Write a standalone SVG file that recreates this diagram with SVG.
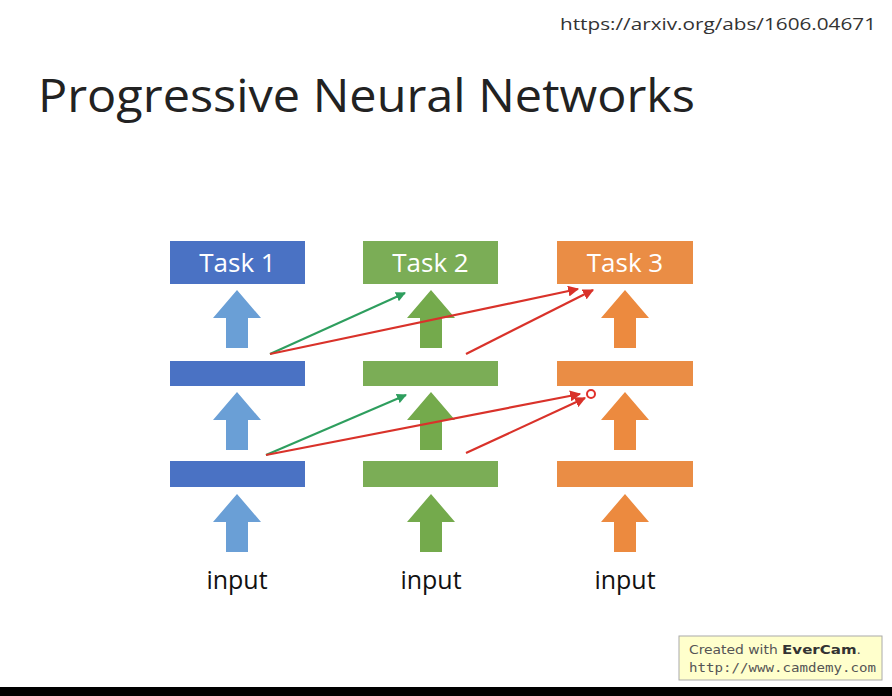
<svg xmlns="http://www.w3.org/2000/svg" width="892" height="696" viewBox="0 0 892 696">
<defs>
<style>
.t{font-family:"Open Sans","Liberation Sans",sans-serif;}
.lbl{font-size:26px;fill:#ffffff;text-anchor:middle;}
.inp{font-size:25px;fill:#111;text-anchor:middle;}
.b{fill:#4A72C4;} .g{fill:#7BAD56;} .o{fill:#EA8D45;}
.ab{fill:#6A9FD6;} .ag{fill:#74AA4C;} .ao{fill:#EC8A3F;}
.cg{stroke:#2E9E5E;stroke-width:2;fill:none;marker-end:url(#mg);}
.cr{stroke:#D9322A;stroke-width:2.2;fill:none;marker-end:url(#mr);}
</style>
<marker id="mg" viewBox="0 0 10 10" refX="9" refY="5" markerWidth="5" markerHeight="5" orient="auto"><path d="M0,0 L10,5 L0,10 z" fill="#2E9E5E"/></marker>
<marker id="mr" viewBox="0 0 10 10" refX="9" refY="5" markerWidth="5" markerHeight="5" orient="auto"><path d="M0,0 L10,5 L0,10 z" fill="#D9322A"/></marker>
<path id="up" d="M-24,28 L0,0 L24,28 L11,28 L11,58 L-11,58 L-11,28 z"/>
</defs>
<rect width="892" height="696" fill="#ffffff"/>
<text class="t" x="560" y="30" font-size="17" fill="#333" textLength="316" lengthAdjust="spacingAndGlyphs">https://arxiv.org/abs/1606.04671</text>
<text class="t" x="38" y="112" font-size="46" fill="#222" textLength="657" lengthAdjust="spacingAndGlyphs">Progressive Neural Networks</text>

<g id="col1">
<rect class="b" x="170" y="241" width="135" height="43"/>
<text class="t lbl" x="237.5" y="272">Task 1</text>
<rect class="b" x="170" y="361" width="135" height="25"/>
<rect class="b" x="170" y="461" width="135" height="26"/>
<use href="#up" class="ab" x="237" y="290"/>
<use href="#up" class="ab" x="237" y="392"/>
<use href="#up" class="ab" x="237" y="494"/>
<text class="t inp" x="237" y="589">input</text>
</g>
<g id="col2">
<rect class="g" x="363" y="241" width="135" height="43"/>
<text class="t lbl" x="430.5" y="272">Task 2</text>
<rect class="g" x="363" y="361" width="135" height="25"/>
<rect class="g" x="363" y="461" width="135" height="26"/>
<use href="#up" class="ag" x="431" y="290"/>
<use href="#up" class="ag" x="431" y="392"/>
<use href="#up" class="ag" x="431" y="494"/>
<text class="t inp" x="431" y="589">input</text>
</g>
<g id="col3">
<rect class="o" x="557" y="241" width="136" height="43"/>
<text class="t lbl" x="625" y="272">Task 3</text>
<rect class="o" x="557" y="361" width="136" height="25"/>
<rect class="o" x="557" y="461" width="136" height="26"/>
<use href="#up" class="ao" x="625" y="290"/>
<use href="#up" class="ao" x="625" y="392"/>
<use href="#up" class="ao" x="625" y="494"/>
<text class="t inp" x="625" y="589">input</text>
</g>

<g id="connectors">
<line class="cg" x1="270" y1="354" x2="405" y2="293"/>
<line class="cr" x1="270" y1="354" x2="578" y2="289"/>
<line class="cr" x1="466" y1="354" x2="593" y2="290"/>
<line class="cg" x1="266" y1="455" x2="406" y2="395"/>
<line class="cr" x1="266" y1="455" x2="580" y2="394"/>
<line class="cr" x1="466" y1="453" x2="585" y2="398"/>
</g>
<circle cx="591" cy="394" r="4" fill="none" stroke="#E0302A" stroke-width="2"/>

<g id="watermark">
<rect x="679" y="636" width="203" height="44" fill="#FFFFCC" stroke="#AAAAAA" stroke-width="1"/>
<text x="689" y="654" font-family="'DejaVu Sans',sans-serif" font-size="12" fill="#555" textLength="172" lengthAdjust="spacingAndGlyphs">Created with <tspan font-weight="bold" fill="#333" font-size="13">EverCam</tspan>.</text>
<text x="689" y="672" font-family="'DejaVu Sans Mono','Liberation Mono',monospace" font-size="12" fill="#555" textLength="187" lengthAdjust="spacingAndGlyphs">http://www.camdemy.com</text>
</g>
<rect x="0" y="687" width="892" height="9" fill="#000"/>
</svg>
